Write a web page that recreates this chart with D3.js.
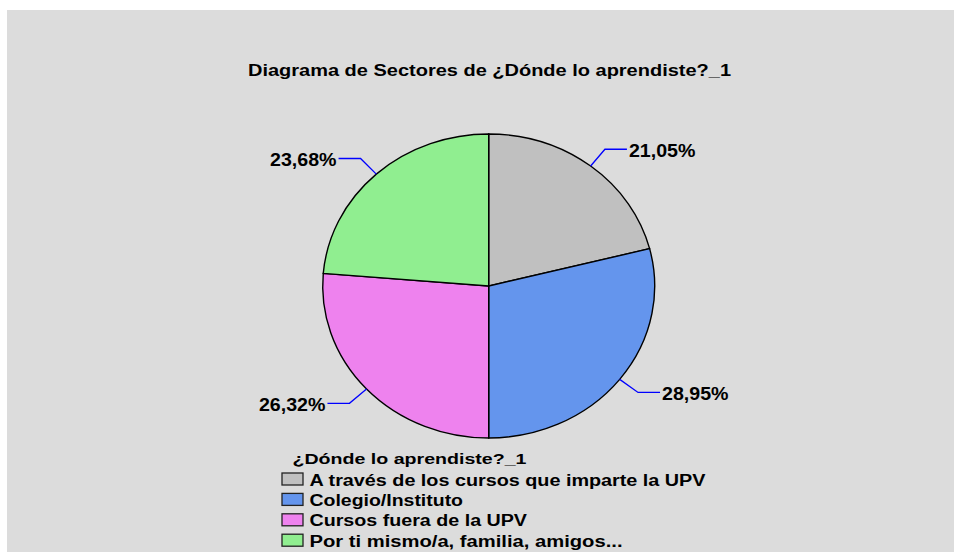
<!DOCTYPE html>
<html>
<head>
<meta charset="utf-8">
<script src="https://cdn.jsdelivr.net/npm/d3@7"></script>
<style>
  html, body { margin: 0; padding: 0; background: #ffffff; }
  svg { display: block; }
  text { font-family: "Liberation Sans", Arial, Helvetica, sans-serif; font-weight: bold; fill: #000; }
</style>
</head>
<body>
<svg id="chart" width="954" height="552"></svg>
<script>
// ---- data ----
const chartTitle = "Diagrama de Sectores de ¿Dónde lo aprendiste?_1";
const legendTitle = "¿Dónde lo aprendiste?_1";
const categories = [
  "A través de los cursos que imparte la UPV",
  "Colegio/Instituto",
  "Cursos fuera de la UPV",
  "Por ti mismo/a, familia, amigos..."
];
const percentages = [21.05, 28.95, 26.32, 23.68];
const colors = ["#c0c0c0", "#6495ed", "#ee82ee", "#90ee90"];

// ---- layout / style ----
const W = 954, H = 552;
const cx = 488.7, cy = 286, rx = 166, ry = 152;
const labelStretch = 1.12;
const legendWidths = [396, 153.5, 217.5, 313];

const svg = d3.select("#chart");

svg.append("rect")
  .attr("x", 7).attr("y", 10)
  .attr("width", W - 7).attr("height", H - 10)
  .attr("fill", "#dcdcdc");

function fitWidth(sel, w) {
  sel.attr("textLength", w).attr("lengthAdjust", "spacingAndGlyphs");
}

// title
svg.append("text")
  .attr("x", 248).attr("y", 76)
  .attr("font-size", 16.5)
  .text(chartTitle)
  .call(fitWidth, 483);

// pie
const data = categories.map((c, i) => ({ cat: c, value: percentages[i], color: colors[i] }));
const pie = d3.pie().value(d => d.value).sort(null);
const arcs = pie(data);
const arc = d3.arc().innerRadius(0).outerRadius(ry);

const pieG = svg.append("g")
  .attr("transform", `translate(${cx},${cy}) scale(${rx / ry},1)`);

pieG.selectAll("path.slice")
  .data(arcs)
  .enter().append("path")
  .attr("class", "slice")
  .attr("d", arc)
  .attr("fill", d => d.data.color)
  .attr("stroke", "#000")
  .attr("stroke-width", 1.4)
  .attr("vector-effect", "non-scaling-stroke");

// leader lines and labels
const fmt = v => d3.format(".2f")(v).replace(".", ",") + "%";
function ept(a, f) {
  return [cx + rx * f * Math.sin(a), cy - ry * f * Math.cos(a)];
}
arcs.forEach(d => {
  const a = (d.startAngle + d.endAngle) / 2;
  const right = Math.sin(a) >= 0;
  const p0 = ept(a, 1.0);
  const p1 = ept(a, 1.14);
  const p2 = [p1[0] + (right ? 22 : -22), p1[1]];
  svg.append("polyline")
    .attr("points", [p0, p1, p2].map(p => p.join(",")).join(" "))
    .attr("fill", "none")
    .attr("stroke", "#0000ff")
    .attr("stroke-width", 1.3);
  const t = svg.append("text")
    .attr("x", p2[0] + (right ? 2 : -2))
    .attr("y", p2[1] + 8)
    .attr("font-size", 17.5)
    .attr("text-anchor", right ? "start" : "end")
    .text(fmt(d.data.value));
  const w = t.node().getComputedTextLength();
  fitWidth(t, w * labelStretch);
});

// legend
svg.append("text")
  .attr("x", 292.5).attr("y", 463.5)
  .attr("font-size", 15.5)
  .text(legendTitle)
  .call(fitWidth, 234);

const legRowY = d3.scaleLinear().domain([0, 1]).range([479, 499.4]);
const leg = svg.append("g");
data.forEach((d, i) => {
  const yc = legRowY(i);
  leg.append("rect")
    .attr("x", 282).attr("y", yc - 6)
    .attr("width", 21).attr("height", 12)
    .attr("fill", d.color)
    .attr("stroke", "#222")
    .attr("stroke-width", 1.3);
  leg.append("text")
    .attr("x", 309.5).attr("y", yc + 6.5)
    .attr("font-size", 16)
    .text(d.cat)
    .call(fitWidth, legendWidths[i]);
});
</script>
</body>
</html>
